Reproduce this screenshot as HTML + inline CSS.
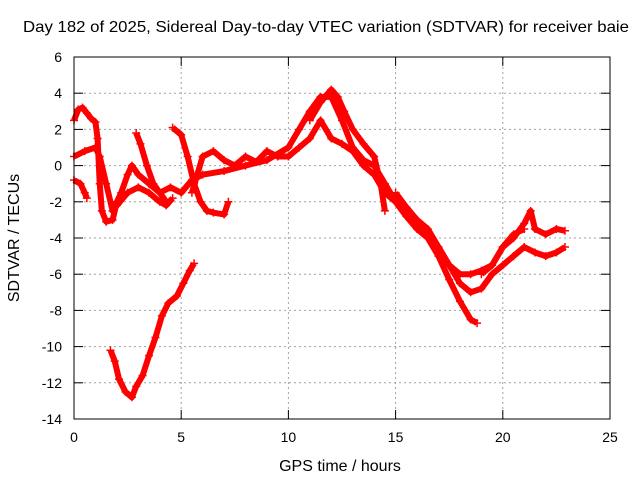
<!DOCTYPE html>
<html><head><meta charset="utf-8"><style>
body{margin:0;background:#fff}
svg{display:block;font-family:"Liberation Sans",sans-serif;font-size:14px}
</style></head><body>
<svg id="chart" width="640" height="480">
<text x="326" y="32" text-anchor="middle" font-size="16" textLength="606" lengthAdjust="spacingAndGlyphs">Day 182 of 2025, Sidereal Day-to-day VTEC variation (SDTVAR) for receiver baie</text>
<text x="340" y="471" text-anchor="middle" font-size="16">GPS time / hours</text>
<text transform="translate(19,238) rotate(-90)" text-anchor="middle" font-size="16">SDTVAR / TECUs</text>
<g id="grid"></g><g id="ticks"></g><g id="series"></g>
<rect x="74" y="57" width="536" height="362" fill="none" stroke="#000"/>
</svg>
<script>
const xTicks=[0,5,10,15,20,25];
const yTicks=[6,4,2,0,-2,-4,-6,-8,-10,-12,-14];
const sA=[[0,2.5],[0.2,3.1],[0.4,3.2],[0.6,2.9],[0.8,2.6],[1.0,2.4],[1.1,1.5],[1.2,-1],[1.3,-2.5],[1.5,-3.1],[1.8,-3],[2.0,-2],[2.2,-1.5],[2.5,-0.5],[2.7,0],[3.0,-0.5],[3.5,-1],[4.0,-1.5],[4.5,-1.2],[5.0,-1.5],[5.5,-0.8],[6.0,-0.5],[7,-0.3],[8,0],[9,0.3],[10,1],[10.5,2],[11,3],[11.5,3.8],[12,3.8],[12.5,2.5],[13,1],[13.5,0.3],[14,0],[14.5,-1],[15,-2],[15.5,-2.5],[16,-3],[16.5,-3.5],[17,-4.5],[17.5,-5.5],[18,-6],[18.5,-6],[19,-5.8],[19.5,-5.5],[20,-4.5],[20.5,-3.8],[21,-3.5]];
const sB=[[0,0.5],[0.5,0.8],[1,1],[1.2,0.5],[1.5,-1],[1.8,-2.5],[2,-2.2],[2.5,-1.5],[3,-1.2],[3.5,-1.5],[4,-2],[4.3,-2.2],[4.6,-1.8]];
const sC=[[0,-0.8],[0.3,-1],[0.5,-1.5],[0.6,-1.8]];
const sD=[[2.9,1.8],[3.1,1.2],[3.4,0],[3.7,-1],[4,-1.5],[4.3,-2]];
const sE=[[4.6,2.1],[5.0,1.7],[5.3,0.5],[5.6,-1],[5.9,-2],[6.2,-2.5],[6.5,-2.6],[7,-2.7],[7.2,-2]];
const sF=[[1.7,-10.2],[1.9,-10.8],[2.1,-11.8],[2.4,-12.5],[2.7,-12.8],[2.9,-12.2],[3.2,-11.6],[3.5,-10.5],[3.8,-9.5],[4.1,-8.3],[4.4,-7.6],[4.8,-7.2],[5.1,-6.5],[5.4,-5.8],[5.6,-5.4]];
const sG=[[5.5,-1.5],[6,0.5],[6.5,0.8],[7,0.3],[7.5,0],[8,0.5],[8.5,0.2],[9,0.8],[9.5,0.5],[10,0.5],[10.5,1],[11,1.5],[11.5,2.5],[12,1.5],[12.5,1.2],[13,0.8],[13.5,0],[14,-0.5],[14.5,-1.5],[15,-2],[15.5,-2.8],[16,-3.5],[16.5,-4],[17,-5],[17.5,-6.3],[18,-7.5],[18.5,-8.5],[18.8,-8.7]];
const sH=[[11,2.5],[11.5,3.5],[12,4.2],[12.3,3.8],[12.6,3],[13,2],[13.5,1.2],[14,0.5],[14.3,-1],[14.5,-2.5]];
const sI=[[15,-1.5],[15.5,-2.3],[16,-3],[16.5,-3.8],[17,-4.5],[17.5,-5.5],[18,-6.5],[18.5,-7],[19,-6.8],[19.5,-6],[20,-5.5],[20.5,-5],[21,-4.5],[21.5,-4.8],[22,-5],[22.5,-4.8],[22.9,-4.5]];
const sJ=[[19,-6],[19.5,-5.5],[20,-4.5],[20.5,-4],[21,-3.2],[21.3,-2.5],[21.5,-3.5],[22,-3.8],[22.5,-3.5],[22.9,-3.6]];
const allSeries=[sA,sB,sC,sD,sE,sF,sG,sH,sI,sJ];
const NS='http://www.w3.org/2000/svg';
const X=v=>74+v*536/25, Y=v=>57+(6-v)*362/20;
function mk(t,a,p){const e=document.createElementNS(NS,t);for(const k in a)e.setAttribute(k,a[k]);p.appendChild(e);return e;}
const grid=document.getElementById('grid'),ticks=document.getElementById('ticks'),ser=document.getElementById('series');
xTicks.forEach(t=>{const x=X(t);
 if(t>0&&t<25){const g=mk('line',{x1:x,x2:x,y1:57,y2:419,stroke:'#a0a0a0','stroke-dasharray':'2,3'},grid);
 
 }
 mk('line',{x1:x,x2:x,y1:419,y2:410,stroke:'#000'},ticks);mk('line',{x1:x,x2:x,y1:57,y2:66,stroke:'#000'},ticks);
 const l=mk('text',{x:x,y:442,'text-anchor':'middle'},ticks);l.textContent=t;
 
 });
yTicks.forEach(t=>{const y=Y(t);
 if(t>-14&&t<6){const g=mk('line',{x1:74,x2:610,y1:y,y2:y,stroke:'#a0a0a0','stroke-dasharray':'2,3'},grid);
 
 }
 mk('line',{x1:74,x2:83,y1:y,y2:y,stroke:'#000'},ticks);mk('line',{x1:610,x2:601,y1:y,y2:y,stroke:'#000'},ticks);
 const l=mk('text',{x:62,y:y+5,'text-anchor':'end'},ticks);l.textContent=t;
 
 });
allSeries.forEach((s,i)=>{
 const p=mk('polyline',{points:s.map(d=>X(d[0])+','+Y(d[1])).join(' '),fill:'none',stroke:'#ff0000','stroke-width':6,'stroke-linejoin':'round'},ser);
 
 
 s.forEach(d=>{const x=X(d[0]),y=Y(d[1]);
  const m=mk('path',{d:`M${x-4},${y}H${x+4}M${x},${y-4}V${y+4}`,stroke:'#ff0000','stroke-width':1.5},ser);
  
  });
});
</script>
</body></html>
